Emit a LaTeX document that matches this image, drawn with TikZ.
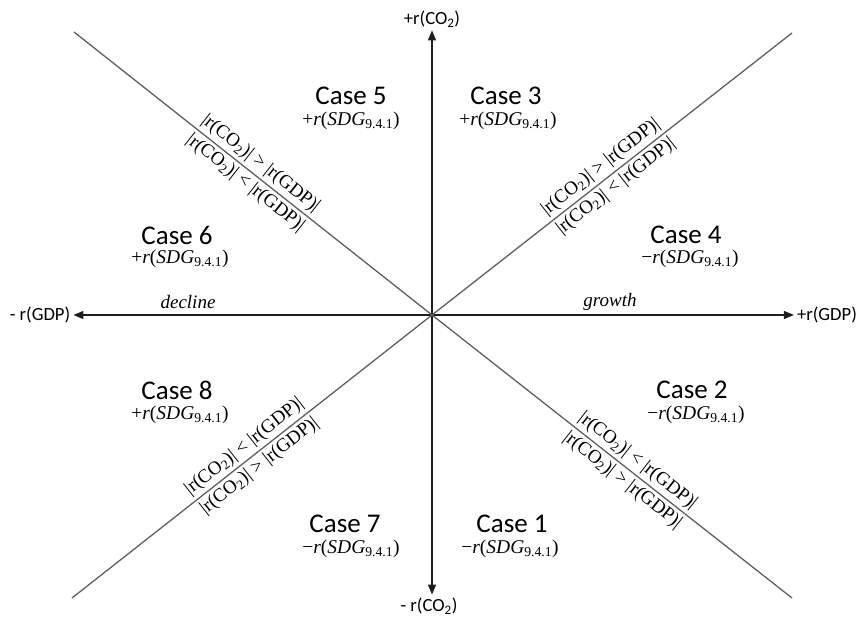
\RequirePackage{fix-cm}
\documentclass[tikz,border=0pt]{standalone}
\usepackage{fontspec}
\newfontfamily\calibri{Carlito}
\newfontfamily\cambria{Liberation Serif}
\usetikzlibrary{arrows.meta, positioning}
\definecolor{axisgray}{RGB}{30,30,30}
\definecolor{diaggray}{RGB}{95,95,95}

% SDG indicator label
\newcommand{\sdgrate}[1]{#1\textit{r}(\textit{SDG}\textsubscript{9.4.1})}

\tikzset{
  axis/.style={-{Triangle[length=10pt, width=8pt]}, line width=1.3pt, draw=axisgray},
  diag/.style={line width=1.3pt, draw=diaggray},
  axislabel/.style={font=\calibri\fontsize{18.6}{22}\selectfont, inner sep=3pt},
  casetitle/.style={font=\calibri\fontsize{27}{32}\selectfont, inner sep=0pt},
  sdglabel/.style={font=\cambria\fontsize{19.5}{22}\selectfont, inner sep=0pt},
  ratio/.style={font=\cambria\fontsize{19}{22}\selectfont, sloped, inner sep=3pt},
  trend/.style={font=\cambria\itshape\fontsize{19}{22}\selectfont, inner sep=0pt}
}

\begin{document}
\begin{tikzpicture}[x=1pt, y=-1pt]
  \useasboundingbox (0,0) rectangle (857,618);

  % Origin and ends of the diagonals
  \coordinate (o) at (432,315);
  \coordinate (tl) at (74,32);
  \coordinate (tr) at (792,33);
  \coordinate (bl) at (72,598);
  \coordinate (br) at (792,598);

  % Axis labels
  \node[axislabel] (co2pos) at (432,19) {+r(CO\textsubscript{2})};
  \node[axislabel] (co2neg) at (429,606) {- r(CO\textsubscript{2})};
  \node[axislabel] (gdpneg) at (40,315) {- r(GDP)};
  \node[axislabel] (gdppos) at (827,315) {+r(GDP)};

  % Axes
  \draw[axis] (o) -- (o |- co2pos.south);
  \draw[axis] (o) -- (o |- co2neg.north);
  \draw[axis] (o) -- (o -| gdpneg.east);
  \draw[axis] (o) -- (o -| gdppos.west);

  \node[trend] (decline) at (188,302) {decline};
  \node[trend] (growth) at (610,302) {growth};

  % Diagonals
  \draw[diag] (tl) -- (o)
    node[ratio, pos=.5, above] (tlabove) {|r(CO\textsubscript{2})| > |r(GDP)|}
    node[ratio, pos=.5, below] (tlbelow) {|r(CO\textsubscript{2})| < |r(GDP)|};
  \draw[diag] (o) -- (tr)
    node[ratio, pos=.49, above] (trabove) {|r(CO\textsubscript{2})| > |r(GDP)|}
    node[ratio, pos=.49, below] (trbelow) {|r(CO\textsubscript{2})| < |r(GDP)|};
  \draw[diag] (bl) -- (o)
    node[ratio, pos=.5, above] (blabove) {|r(CO\textsubscript{2})| < |r(GDP)|}
    node[ratio, pos=.5, below] (blbelow) {|r(CO\textsubscript{2})| > |r(GDP)|};
  \draw[diag] (o) -- (br)
    node[ratio, pos=.55, above] (brabove) {|r(CO\textsubscript{2})| < |r(GDP)|}
    node[ratio, pos=.55, below] (brbelow) {|r(CO\textsubscript{2})| > |r(GDP)|};

  % Cases, top row
  \node[casetitle] (case5) at (351,96) {Case 5};
  \node[sdglabel] (sdg5) at (351,121) {\sdgrate{+}};
  \node[casetitle] (case3) at (506,96) {Case 3};
  \node[sdglabel] (sdg3) at (508,121) {\sdgrate{+}};

  % Cases, above the GDP axis
  \node[casetitle] (case6) at (177,235) {Case 6};
  \node[sdglabel] (sdg6) at (180,259) {\sdgrate{+}};
  \node[casetitle] (case4) at (686,235) {Case 4};
  \node[sdglabel] (sdg4) at (690,259) {\sdgrate{−}};

  % Cases, below the GDP axis
  \node[casetitle] (case8) at (177,390) {Case 8};
  \node[sdglabel] (sdg8) at (180,415) {\sdgrate{+}};
  \node[casetitle] (case2) at (692,390) {Case 2};
  \node[sdglabel] (sdg2) at (696,415) {\sdgrate{−}};

  % Cases, bottom row
  \node[casetitle] (case7) at (345,524) {Case 7};
  \node[sdglabel] (sdg7) at (351,549) {\sdgrate{−}};
  \node[casetitle] (case1) at (512,524) {Case 1};
  \node[sdglabel] (sdg1) at (510,549) {\sdgrate{−}};
\end{tikzpicture}
\end{document}
